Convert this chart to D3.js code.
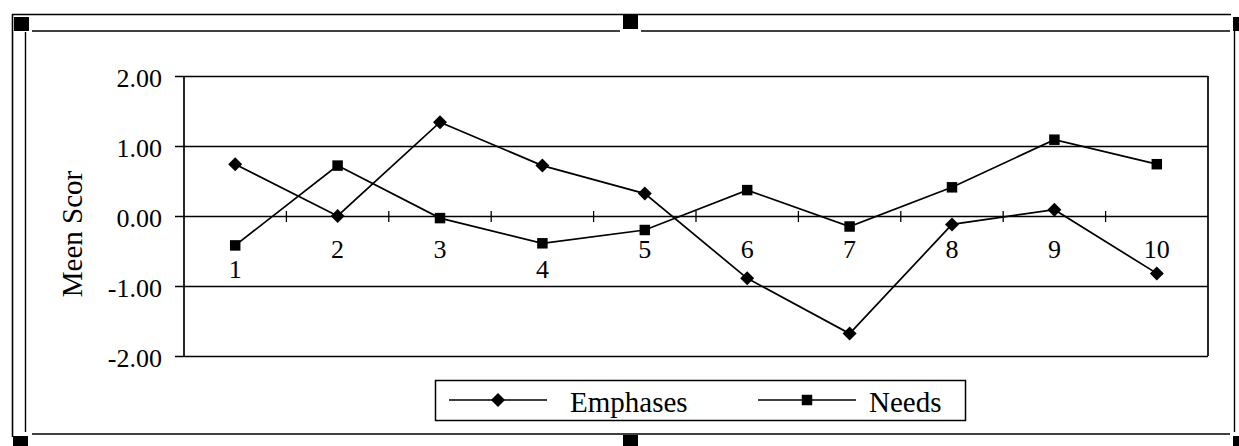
<!DOCTYPE html>
<html><head><meta charset="utf-8">
<script src="https://cdn.jsdelivr.net/npm/d3@7"></script>
<style>
html,body{margin:0;padding:0;background:#fff;}
svg{display:block;}
text{font-family:"Liberation Serif","Times New Roman",serif;fill:#000;}
</style></head>
<body>
<svg id="chart" width="1239" height="446"></svg>
<script>
const categories = ["1","2","3","4","5","6","7","8","9","10"];
const emphases = [0.74, 0.00, 1.34, 0.72, 0.32, -0.89, -1.68, -0.12, 0.09, -0.82];
const needs = [-0.42, 0.72, -0.03, -0.39, -0.20, 0.37, -0.15, 0.41, 1.09, 0.74];
const yTicks = [2, 1, 0, -1, -2];
const seriesNames = ["Emphases", "Needs"];
const axisTitle = "Meen Scor";

const svg = d3.select("#chart");
const plot = {left: 184, right: 1208, top: 76, bottom: 356};

// ---- frame ----
const frame = svg.append("g").attr("stroke", "#000").attr("fill", "none");
frame.append("line").attr("x1", 12).attr("x2", 1231).attr("y1", 14.5).attr("y2", 14.5).attr("stroke-width", 1.6);
frame.append("line").attr("x1", 12.5).attr("x2", 12.5).attr("y1", 14).attr("y2", 437).attr("stroke-width", 1.6);
frame.append("line").attr("x1", 25.5).attr("x2", 25.5).attr("y1", 32).attr("y2", 432).attr("stroke-width", 1.4);
frame.append("line").attr("x1", 1234.5).attr("x2", 1234.5).attr("y1", 31).attr("y2", 432).attr("stroke-width", 1.4);
frame.append("line").attr("x1", 32).attr("x2", 620).attr("y1", 31).attr("y2", 31).attr("stroke-width", 1.4);
frame.append("line").attr("x1", 641).attr("x2", 1230).attr("y1", 31).attr("y2", 31).attr("stroke-width", 1.4);
frame.append("line").attr("x1", 32).attr("x2", 1230).attr("y1", 434).attr("y2", 434).attr("stroke-width", 1.4);
const sq = [[14,17],[623,15],[1233,17],[13,436],[623,435],[1233,436]];
svg.append("g").selectAll("rect").data(sq).join("rect")
  .attr("x", d => d[0]).attr("y", d => d[1]).attr("width", d => d[0] > 1200 ? 7 : 15).attr("height", 14)
  .attr("fill", "#000");

// ---- scales ----
const x = d3.scaleBand().domain(categories).range([plot.left, plot.right]).padding(0);
const y = d3.scaleLinear().domain([-2, 2]).range([plot.bottom, plot.top]);
const cx = c => x(c) + x.bandwidth() / 2;

// ---- gridlines + y axis ----
const fmt = v => d3.format(".2f")(v).replace("\u2212", "-");
const yAxis = d3.axisLeft(y).tickValues(yTicks).tickFormat(fmt).tickSize(plot.right - plot.left + 9).tickPadding(13);
const gy = svg.append("g").attr("transform", `translate(${plot.right},0)`).call(yAxis);
gy.select(".domain").remove();
gy.selectAll(".tick line").attr("stroke", "#000").attr("stroke-width", 1.7);
gy.selectAll(".tick text").attr("font-size", 26).attr("font-family", "Liberation Serif").attr("dy", "0.42em")
  .attr("x", -(plot.right - 162)).attr("dx", 0);

// plot box verticals
svg.append("line").attr("x1", plot.left).attr("x2", plot.left).attr("y1", plot.top).attr("y2", plot.bottom).attr("stroke", "#000").attr("stroke-width", 1.7);
svg.append("line").attr("x1", plot.right).attr("x2", plot.right).attr("y1", plot.top).attr("y2", plot.bottom).attr("stroke", "#000").attr("stroke-width", 1.7);

// ---- x axis ticks at category boundaries on zero line ----
const boundaries = categories.slice(1).map(c => x(c));
svg.append("g").selectAll("line").data(boundaries).join("line")
  .attr("x1", d => d).attr("x2", d => d)
  .attr("y1", y(0) - 5).attr("y2", y(0) + 6)
  .attr("stroke", "#000").attr("stroke-width", 1.3);

// category labels (pushed down when a marker sits in the label slot)
const upperBase = 42, lowerBase = 62, labelH = 16, mk = 6;
svg.append("g").selectAll("text").data(categories).join("text")
  .attr("x", d => cx(d))
  .attr("y", (d, i) => {
    const top = y(0) + upperBase - labelH, bot = y(0) + upperBase;
    const hit = [emphases[i], needs[i]].some(v => y(v) + mk > top && y(v) - mk < bot);
    return y(0) + (hit ? lowerBase : upperBase);
  })
  .attr("text-anchor", "middle").attr("font-size", 26).text(d => d);

// axis title
svg.append("text").attr("transform", `translate(82,234) rotate(-90)`)
  .attr("text-anchor", "middle").attr("font-size", 29).text(axisTitle);

// ---- series ----
const line = d3.line().x((d, i) => cx(categories[i])).y(d => y(d));
const diamond = d3.symbol().type(d3.symbolSquare).size(98);
const square = d3.symbol().type(d3.symbolSquare).size(110);

svg.append("path").datum(emphases).attr("d", line).attr("fill", "none").attr("stroke", "#000").attr("stroke-width", 1.7);
svg.append("path").datum(needs).attr("d", line).attr("fill", "none").attr("stroke", "#000").attr("stroke-width", 1.7);

svg.append("g").selectAll("path").data(emphases).join("path")
  .attr("d", diamond)
  .attr("transform", (d, i) => `translate(${cx(categories[i])},${y(d)}) rotate(45)`)
  .attr("fill", "#000");
svg.append("g").selectAll("path").data(needs).join("path")
  .attr("d", square)
  .attr("transform", (d, i) => `translate(${cx(categories[i])},${y(d)})`)
  .attr("fill", "#000");

// ---- legend ----
const lg = svg.append("g");
lg.append("rect").attr("x", 435.5).attr("y", 380.5).attr("width", 530).attr("height", 40)
  .attr("fill", "#fff").attr("stroke", "#000").attr("stroke-width", 1.5);
const legendItems = [
  {name: seriesNames[0], x0: 449, x1: 547, sym: diamond, rot: 45, tx: 570},
  {name: seriesNames[1], x0: 758, x1: 856, sym: square, rot: 0, tx: 869}
];
legendItems.forEach(it => {
  lg.append("line").attr("x1", it.x0).attr("x2", it.x1).attr("y1", 400).attr("y2", 400).attr("stroke", "#000").attr("stroke-width", 1.5);
  lg.append("path").attr("d", it.sym).attr("transform", `translate(${(it.x0 + it.x1) / 2},400) rotate(${it.rot})`).attr("fill", "#000");
  lg.append("text").attr("x", it.tx).attr("y", 411.5).attr("font-size", 29).text(it.name);
});
</script>
</body></html>
